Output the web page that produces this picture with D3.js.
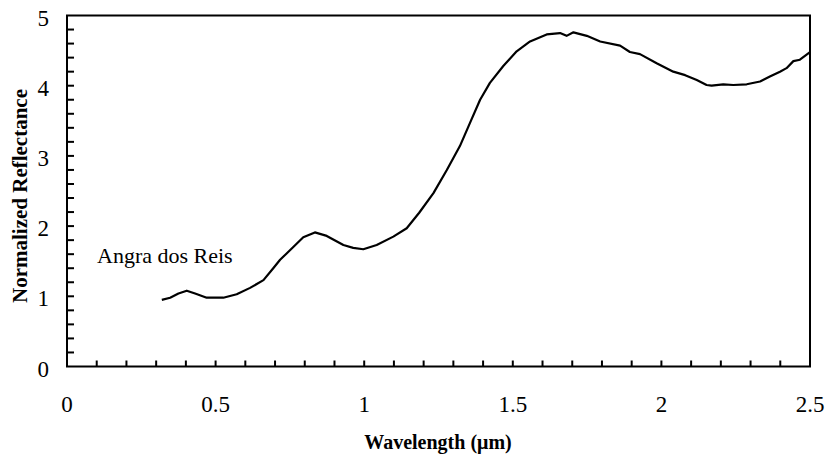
<!DOCTYPE html>
<html><head><meta charset="utf-8">
<script src="https://cdn.jsdelivr.net/npm/d3@7"></script>
<style>body{margin:0;background:#fff}svg{display:block}</style>
</head><body>
<svg id="c" width="828" height="455"></svg>
<script>
const wavelength = [0.319,0.347,0.375,0.403,0.431,0.470,0.526,0.571,0.616,0.661,0.694,0.717,0.739,0.795,0.834,0.874,0.930,0.963,0.997,1.042,1.098,1.143,1.185,1.233,1.278,1.322,1.356,1.390,1.423,1.468,1.513,1.558,1.614,1.659,1.681,1.704,1.749,1.794,1.861,1.894,1.928,1.984,2.040,2.080,2.119,2.152,2.169,2.208,2.242,2.287,2.332,2.365,2.399,2.421,2.444,2.466,2.500];
const reflectance = [0.95,0.98,1.04,1.08,1.04,0.98,0.98,1.03,1.12,1.23,1.40,1.52,1.61,1.84,1.91,1.86,1.73,1.69,1.67,1.73,1.85,1.97,2.19,2.47,2.80,3.14,3.47,3.80,4.04,4.28,4.49,4.63,4.73,4.75,4.71,4.76,4.71,4.63,4.57,4.48,4.45,4.32,4.20,4.15,4.08,4.01,4.00,4.02,4.01,4.02,4.06,4.13,4.20,4.25,4.35,4.37,4.48];
const xTickLabels = [0,0.5,1,1.5,2,2.5];
const yTickLabels = [0,1,2,3,4,5];
const sampleLabel = "Angra dos Reis";
const xTitle = "Wavelength (μm)";
const yTitle = "Normalized Reflectance";

const svg = d3.select("#c");
const L=67, R=810, T=15.5, B=366.5;
const x = d3.scaleLinear().domain([0,2.5]).range([L,R]);
const y = d3.scaleLinear().domain([0,5]).range([B,T]);
const font = "'Liberation Serif','Times New Roman',serif";

// minor ticks
const g = svg.append("g");
g.selectAll(".xt").data(d3.range(1,25).map(i=>i/10)).enter().append("line")
 .attr("x1",d=>x(d)).attr("x2",d=>x(d)).attr("y1",B).attr("y2",B-6)
 .attr("stroke","#000").attr("stroke-width",2);
g.selectAll(".yt").data(d3.range(1,25).map(i=>i/5)).enter().append("line")
 .attr("x1",L).attr("x2",L+7).attr("y1",d=>y(d)).attr("y2",d=>y(d))
 .attr("stroke","#000").attr("stroke-width",2);

// frame
svg.append("rect").attr("x",L).attr("y",T).attr("width",R-L).attr("height",B-T)
 .attr("fill","none").attr("stroke","#000").attr("stroke-width",2);

// tick labels
svg.selectAll(".xl").data(xTickLabels).enter().append("text")
 .attr("x",d=>x(d)).attr("y",412).attr("text-anchor","middle")
 .attr("font-family",font).attr("font-size",23).text(d=>d);
svg.selectAll(".yl").data(yTickLabels).enter().append("text")
 .attr("x",49).attr("y",d=>y(d)+10).attr("text-anchor","end")
 .attr("font-family",font).attr("font-size",23).text(d=>d);

// titles
svg.append("text").attr("x",438).attr("y",449).attr("text-anchor","middle")
 .attr("font-family",font).attr("font-size",20).attr("font-weight","bold").text(xTitle);
svg.append("text").attr("transform","translate(27,196) rotate(-90)").attr("text-anchor","middle")
 .attr("font-family",font).attr("font-size",21).attr("font-weight","bold").text(yTitle);

svg.append("text").attr("x",97).attr("y",263).attr("font-family",font).attr("font-size",22).text(sampleLabel);

// curve
const line = d3.line().x((d,i)=>x(wavelength[i])).y(d=>y(d));
svg.append("path").datum(reflectance).attr("d",line).attr("fill","none")
 .attr("stroke","#000").attr("stroke-width",2.2).attr("stroke-linejoin","round");
</script>
</body></html>
